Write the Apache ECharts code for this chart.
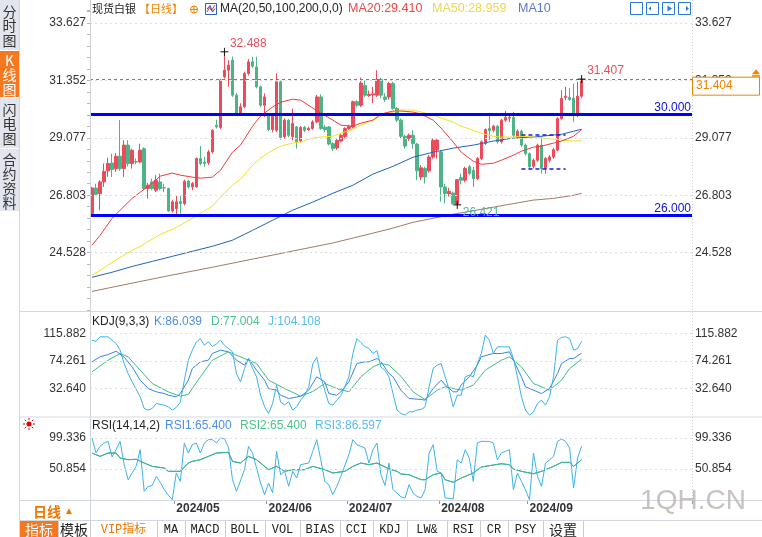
<!DOCTYPE html>
<html>
<head>
<meta charset="utf-8">
<title>现货白银 日线</title>
<script src="https://cdn.jsdelivr.net/npm/echarts@6.0.0/dist/echarts.min.js"></script>
<style>
html,body{margin:0;padding:0;background:#fff;overflow:hidden}
#chart{width:762px;height:537px}
</style>
</head>
<body>
<div id="chart"></div>
<script>
// ---------------- data ----------------
const START_DATE = [2024, 4, 2];   // first candle
const SLOT_COUNT = 150;            // category slots on the time axis (incl. empty right margin)

// [open, close, low, high]
const ohlc = [
[26.07,27.09,26.05,27.13],[27.09,26.84,26.78,27.26],[26.87,27.33,26.21,27.40],[27.33,27.75,27.13,28.06],
[27.77,28.06,27.53,28.29],[28.08,27.82,27.53,28.45],[27.85,28.35,27.73,28.48],[28.35,27.85,27.77,29.78],
[27.86,28.79,27.53,28.98],[28.79,28.06,27.95,28.98],[28.06,28.59,27.86,28.65],[28.14,28.12,28.03,28.26],
[28.12,28.59,28.08,28.85],[28.65,27.07,27.00,28.70],[27.07,27.20,26.67,27.29],[27.33,27.07,27.00,27.46],
[27.00,27.40,26.93,27.60],[27.33,27.07,27.00,27.66],[27.10,27.09,26.93,27.26],[27.07,26.18,26.15,27.10],
[26.18,26.54,26.12,26.62],[26.27,26.54,26.01,26.80],[26.56,26.47,26.07,26.80],[26.47,27.36,26.40,27.42],
[27.36,27.13,27.07,27.42],[27.13,27.27,27.00,27.33],[27.13,28.26,27.10,28.30],[28.26,28.06,27.99,28.75],
[28.12,28.06,27.93,28.32],[28.09,28.52,28.00,28.60],[28.52,29.38,28.45,29.42],[29.58,29.51,29.45,29.80],
[29.49,31.37,29.42,31.42],[31.50,31.76,31.43,32.488],[31.76,31.96,31.10,32.16],[32.16,30.77,30.70,32.30],
[30.77,30.04,29.98,30.85],[30.04,30.31,29.98,30.45],[30.31,31.63,30.25,31.70],[31.63,32.09,31.55,32.20],
[32.09,31.92,31.85,32.29],[31.89,31.10,31.04,32.29],[31.10,30.37,30.30,31.15],[30.37,30.70,29.90,30.84],
[29.98,29.41,29.35,30.05],[29.41,29.94,29.30,30.00],[29.38,31.30,29.30,31.63],[31.30,29.09,29.00,31.36],
[29.12,29.78,29.05,29.85],[29.78,29.18,29.10,29.82],[29.12,29.65,28.98,30.24],[29.51,28.92,28.65,29.55],
[28.95,29.49,28.90,29.55],[29.49,29.38,29.30,29.55],[29.40,29.45,29.35,29.52],[29.45,29.71,29.40,29.78],
[29.71,30.70,29.65,30.78],[30.70,29.45,29.40,30.80],[29.50,29.40,29.30,29.58],[29.51,28.83,28.78,29.55],
[28.85,28.65,28.55,28.90],[28.68,28.98,28.60,29.05],[28.95,29.18,28.90,29.25],[29.13,29.45,29.05,29.50],
[29.45,29.52,29.38,29.60],[29.51,30.51,29.45,30.55],[30.51,30.37,30.28,30.57],[30.37,31.25,30.30,31.47],
[31.15,30.77,30.70,31.35],[30.76,30.80,30.70,30.95],[30.78,30.82,30.45,31.10],[30.77,31.39,30.70,31.76],
[31.39,30.77,30.65,31.45],[30.70,30.60,30.50,30.85],[30.70,31.23,30.60,31.30],[31.23,30.24,30.20,31.30],
[30.24,29.78,29.70,30.30],[29.78,29.14,29.05,29.85],[29.14,28.75,28.65,29.20],[29.05,29.18,28.95,29.25],
[29.18,28.85,28.65,29.38],[28.83,27.77,27.40,28.88],[27.53,27.89,27.40,27.99],[27.86,27.53,27.27,27.93],
[27.77,28.32,27.70,28.40],[28.32,28.98,28.25,29.05],[28.60,28.99,28.26,29.02],[28.52,27.13,26.55,28.60],
[27.13,26.87,26.47,27.25],[26.87,26.95,26.75,27.10],[26.89,26.47,26.43,26.95],[26.45,27.42,26.421,27.45],
[27.50,27.40,27.23,27.66],[27.40,27.86,27.32,27.93],[27.93,27.66,27.60,28.00],[27.79,27.46,27.13,27.93],
[27.46,28.26,27.40,28.32],[28.26,28.92,28.20,28.98],[28.85,29.41,28.80,29.45],[29.45,29.36,28.98,29.94],
[29.38,29.54,29.30,29.60],[29.54,28.92,28.85,29.58],[28.92,29.78,28.85,29.82],[29.78,29.88,29.71,30.15],
[29.86,29.89,29.71,29.98],[29.88,29.18,29.12,30.11],[29.12,29.34,29.05,29.42],[29.34,28.79,28.72,29.40],
[28.79,28.45,28.38,28.85],[28.45,27.93,27.85,28.50],[27.95,28.19,27.86,28.26],[28.19,28.79,28.12,28.85],
[28.79,27.86,27.66,29.12],[27.86,28.26,27.66,28.32],[28.19,28.32,28.10,28.40],[28.32,28.61,28.25,28.68],
[28.59,29.84,28.55,29.90],[29.84,30.64,29.80,30.97],[30.68,30.73,30.57,31.10],[30.68,30.60,30.55,31.04],
[30.64,30.04,29.71,31.23],[30.04,30.73,29.90,31.30],[30.73,31.404,30.65,31.407]
];

// moving averages: [candle index, value]
const ma20 = [[0,24.82],[2,25.21],[5,25.89],[7,26.21],[10,26.68],[12,26.92],[15,27.28],[17,27.56],[20,27.68],[22,27.60],[25,27.52],[27,27.48],[30,27.52],[32,27.79],[35,28.51],[37,28.79],[40,29.54],[42,29.94],[45,30.30],[47,30.49],[50,30.61],[52,30.57],[55,30.26],[57,30.06],[60,29.78],[62,29.58],[65,29.54],[67,29.66],[70,29.78],[72,30.02],[75,30.14],[77,30.14],[80,30.10],[82,30.02],[85,29.78],[87,29.46],[90,28.91],[92,28.51],[95,28.15],[97,28.03],[100,28.07],[102,28.19],[105,28.39],[107,28.55],[110,28.71],[112,28.75],[115,28.87],[117,28.95],[120,29.14],[122,29.41]];
const ma50 = [[0,23.63],[2,23.83],[5,24.14],[7,24.34],[10,24.62],[12,24.78],[15,25.06],[17,25.25],[20,25.45],[22,25.61],[25,25.89],[27,26.09],[30,26.37],[32,26.72],[35,27.20],[37,27.44],[40,27.99],[42,28.27],[45,28.59],[47,28.75],[50,28.87],[52,28.91],[55,29.07],[57,29.11],[60,29.14],[62,29.26],[65,29.42],[67,29.58],[70,29.78],[72,29.94],[75,30.10],[77,30.18],[80,30.18],[82,30.10],[85,29.98],[87,29.86],[90,29.70],[92,29.54],[95,29.38],[97,29.26],[100,29.14],[102,29.11],[105,29.11],[107,29.14],[110,29.11],[112,29.07],[115,29.03],[117,28.99],[120,28.95],[122,28.96]];
const ma100 = [[0,23.55],[5,23.75],[10,23.98],[15,24.18],[20,24.38],[25,24.58],[30,24.78],[35,25.02],[40,25.41],[45,25.81],[50,26.21],[55,26.53],[60,26.88],[65,27.20],[70,27.64],[75,27.95],[80,28.31],[85,28.51],[90,28.67],[95,28.79],[100,28.95],[105,29.07],[110,29.11],[115,29.19],[117,29.22],[120,29.34],[122,29.42]];
const ma200 = [[0,22.99],[10,23.32],[20,23.64],[30,23.95],[40,24.27],[50,24.59],[60,24.91],[70,25.30],[75,25.50],[80,25.73],[90,26.05],[100,26.33],[110,26.61],[115,26.68],[120,26.80],[122,26.88]];

// KDJ(9,3,3)
const kLine = [[0,73],[2,80.6],[4,84],[6,89],[8,80],[10,65.4],[12,45.3],[14,32.6],[16,27.6],[18,25],[19,22.5],[21,20],[22,25],[24,45.3],[25,62.9],[27,73],[29,75.5],[30,85.6],[32,90.7],[34,88.1],[36,75.5],[38,68],[39,78],[41,60.4],[43,45.3],[44,32.6],[46,30.1],[47,22.5],[49,17.5],[52,21],[54,30.1],[56,50.3],[58,42.7],[59,25],[61,22.5],[62,27.6],[64,42.7],[66,70.5],[68,73],[69,73],[71,78],[72,73],[74,55.3],[75,50.3],[77,30],[79,17.5],[82,16],[83,15],[85,32.6],[87,45.3],[88,38],[90,27.6],[91,27.6],[92,38],[94,50.3],[96,68],[97,80.6],[100,85.6],[102,85.6],[104,88.1],[105,75.5],[107,50.3],[108,35.2],[111,27.6],[112,25],[114,32.6],[116,55.3],[117,70.5],[119,78],[120,78],[122,86.04]];
const dLine = [[0,57.9],[4,75.5],[7,85.6],[9,80.6],[12,60.4],[15,40.2],[19,27.6],[22,21],[24,24],[27,50.3],[30,75.5],[34,88.1],[38,78],[41,70.5],[44,45.3],[48,32.6],[52,21],[55,28],[58,40.2],[61,32.6],[64,27.6],[67,50.3],[70,65.4],[72,70.5],[74,68],[77,51],[80,27.6],[83,16],[86,30.1],[88,35.2],[92,30.1],[95,37.7],[98,60.4],[102,75.5],[104,80.6],[107,65.4],[110,40.2],[114,30.1],[117,45.3],[119,62.9],[122,77.0]];
const jLine = [[0,105.8],[1,104],[2,110.8],[4,110.8],[5,105.8],[6,100.7],[7,90.7],[8,70.5],[9,55.3],[10,42.7],[12,20],[13,2.4],[14,0],[15,2.4],[16,9.9],[18,7.4],[19,5],[20,0],[21,4],[22,12],[23,45],[24,75.5],[25,90.7],[26,103],[27,108],[28,98.2],[29,103.3],[30,96],[31,100],[32,105.8],[33,98],[34,93.2],[35,88.1],[36,55],[37,42.7],[38,62.9],[39,78],[40,62.9],[41,50.3],[42,22.5],[43,5],[44,-5.2],[45,9.9],[46,37.7],[47,12],[48,8],[49,12.5],[50,0],[51,5],[52,15],[53,22.5],[54,35.2],[55,70],[56,80],[57,50.3],[58,30.1],[59,9.9],[60,7.4],[61,15],[62,22],[63,35],[64,50.3],[65,85.6],[66,108.3],[67,102],[68,96],[69,93.2],[70,85.6],[71,90],[72,65],[73,60],[74,50],[75,25],[76,0],[77,-5.2],[78,-7.7],[79,-2.7],[80,-2.7],[81,0],[82,0.9],[83,4.9],[84,35.2],[85,62.9],[86,68],[87,70.5],[88,50.3],[89,30.1],[90,4.9],[91,22.5],[92,22.5],[93,50.3],[94,52.8],[95,50.3],[96,70],[97,85.6],[98,113.4],[99,105.8],[100,85.6],[101,95.7],[102,95.7],[103,95.7],[104,95.7],[105,78],[106,50.3],[107,20],[108,0],[109,-7.7],[110,-2.7],[111,9.9],[112,15],[113,7.4],[114,20],[115,50.3],[116,105.8],[117,110],[118,110.8],[119,108.3],[120,90.7],[121,93.2],[122,104.1]];

// RSI(14,14,2): RSI1 and RSI2 coincide
const rsi12Line = [[0,75.8],[2,70.6],[4,75.8],[6,75.8],[7,68],[9,65.4],[11,66],[13,60.2],[15,55],[18,52.4],[19,47.2],[22,47.2],[24,60.2],[25,62.8],[27,65.4],[29,70.6],[31,75.8],[34,76.9],[35,62.8],[37,60.2],[39,70.6],[41,65.4],[43,55],[44,49.8],[46,55],[48,47.2],[50,49.8],[53,49.8],[55,55],[58,49.8],[60,44.6],[63,47.2],[65,55],[67,60.2],[69,57.6],[71,60.2],[74,51],[76,47.2],[77,43],[79,41.9],[82,34.1],[83,34.1],[85,41.9],[87,44.6],[88,34.1],[90,30],[92,36.7],[93,39.3],[95,44.6],[97,54],[99,56],[102,59.1],[104,57.6],[105,50.8],[107,47.2],[110,43.5],[112,47.2],[115,55],[117,61.2],[119,61.2],[120,55],[122,65.4]];
const rsi3Line = [[0,99.3],[1,75.8],[2,86.3],[3,91.5],[4,94.1],[5,70],[6,81],[7,94.1],[8,58],[9,34.1],[10,44.6],[11,55],[12,81],[13,15.9],[14,23.7],[15,25],[16,39.3],[17,30],[18,18.5],[19,10],[20,2.8],[21,44.6],[22,31.5],[23,91.5],[24,75.8],[25,88.9],[26,91.5],[27,75.8],[28,91.5],[29,96.7],[30,96.7],[31,91.5],[32,99.3],[33,98],[34,85],[35,34.1],[36,15.9],[38,49.8],[39,86.3],[40,75.8],[41,52.4],[42,28.9],[43,10.7],[44,28.9],[45,13.3],[46,78.4],[47,41.9],[48,47.2],[49,23.7],[50,47.2],[51,36.7],[52,57.6],[54,60.2],[55,78.4],[56,96.7],[57,65.4],[58,31.5],[59,26.3],[60,10.7],[61,23.7],[62,39.3],[64,73.2],[65,96.7],[66,88.9],[67,86.3],[68,83.7],[69,60.2],[70,81],[71,91.5],[72,41.9],[73,25],[74,60],[75,18.5],[76,13.3],[77,7],[78,5.5],[79,26.3],[80,13.3],[81,8],[82,5.5],[83,18.5],[84,75.8],[85,88.9],[86,47.2],[87,44.6],[88,5.5],[89,5],[90,3.9],[91,65.4],[92,60.2],[93,81],[94,68],[95,31.5],[96,91.5],[97,94.1],[98,94],[99,94],[100,91.5],[101,65.4],[102,75.8],[103,78.4],[104,81],[105,18.5],[106,44.6],[107,31.5],[108,18.5],[109,2.8],[110,75.8],[111,39.3],[112,23.7],[113,60.2],[114,65],[115,70.6],[116,94.1],[117,97.7],[118,94.1],[119,83.7],[120,21.1],[121,68],[122,86.6]];

// axis tick labels and ranges
const mainTicks = [24.528, 26.803, 29.077, 31.352, 33.627];
const kdjTicks = [32.640, 74.261, 115.882];
const rsiTicks = [50.854, 99.336];
const mainRange = [22.2535, 34.146];
const kdjRange = [-8.981, 148.4];
const rsiRange = [2.372, 130.6];

// annotations
const supportLevels = [30, 26];
const highMark = [33, 32.488];
const lastHighMark = [122, 31.407];
const lowMark = [91, 26.421];
const lastClose = 31.404;
const rangeBox = {from: 107, to: 118, top: 29.21, bottom: 27.87};
const maLegend = {ma20: 29.410, ma50: 28.959};
const kdjLegend = {k: 86.039, d: 77.004, j: 104.108};
const rsiLegend = {rsi1: 65.400, rsi2: 65.400, rsi3: 86.597};
const toolbarItems = ['指标','模板','VIP指标','MA','MACD','BOLL','VOL','BIAS','CCI','KDJ','LW&','RSI','CR','PSY','设置'];
const sideTabs = ['分时图','K线图','闪电图','合约资料'];

// ---------------- build ----------------
const categories = [];
(function(){
  const d = new Date(Date.UTC(START_DATE[0], START_DATE[1]-1, START_DATE[2]));
  while (categories.length < SLOT_COUNT) {
    const wd = d.getUTCDay();
    if (wd !== 0 && wd !== 6) {
      categories.push(d.getUTCFullYear() + '/' + String(d.getUTCMonth()+1).padStart(2,'0') + '/' + String(d.getUTCDate()).padStart(2,'0'));
    }
    d.setUTCDate(d.getUTCDate()+1);
  }
})();
const isMonthStart = (i) => i > 0 && i < ohlc.length && categories[i].slice(5,7) !== categories[i-1].slice(5,7);

const NUM = 'Arial, "Liberation Sans", sans-serif';
const CJK = '"Noto Sans CJK SC", sans-serif';
const UP = '#eb4b5a', DOWN = '#4cb486';
const C_MA20 = '#f03c3c', C_MA50 = '#f4e21e', C_MA100 = '#1f66b8', C_MA200 = '#a47a64';
const C_K = '#3a84e6', C_D = '#3dbd86', C_J = '#3cb2ea';
const GRID_LS = {type: [2,3], color: '#dedede', width: 1};

const L = 90, R = 692;
const G = [
  {top: 10, bottom: 310},
  {top: 312, bottom: 416},
  {top: 418, bottom: 500}
];

function yAx(gi, pos, range, ticks, extra) {
  return Object.assign({
    type: 'value', gridIndex: gi, position: pos, min: range[0], max: range[1],
    axisLine: {show: false}, axisTick: {show: false}, splitLine: {show: false},
    axisLabel: {customValues: ticks, formatter: v => Number(v).toFixed(3), fontSize: 12, color: '#333',
      fontFamily: NUM, margin: pos === 'left' ? 4 : 3}
  }, extra || {});
}
function gridSeries(xi, yi, ticks) {
  return {type: 'line', xAxisIndex: xi, yAxisIndex: yi, data: [], z: 1, silent: true,
    markLine: {silent: true, animation: false, symbol: ['none','none'], label: {show: false},
      lineStyle: GRID_LS, data: ticks.map(v => ({yAxis: v}))}};
}
function lineSeries(name, xi, yi, data, color, z) {
  return {name, type: 'line', xAxisIndex: xi, yAxisIndex: yi, data, showSymbol: false, symbol: 'none',
    smooth: false, silent: true, z: z || 4, lineStyle: {width: 1, color}, itemStyle: {color}};
}
const markLabel = (txt, color, dy) => ({show: true, position: 'right', distance: 1, offset: [0, dy],
  formatter: txt, color, fontSize: 12, fontFamily: NUM});

const option = {
  animation: false,
  backgroundColor: '#ffffff',
  textStyle: {fontFamily: NUM},
  grid: G.map(g => ({left: L, width: R - L, top: g.top, height: g.bottom - g.top})),
  xAxis: [0,1,2].map(gi => ({
    type: 'category', gridIndex: gi, data: categories, boundaryGap: true, show: gi === 2,
    axisLine: {show: false},
    axisTick: {show: gi === 2, interval: isMonthStart, length: 4, lineStyle: {color: '#999'}},
    axisLabel: {show: gi === 2, interval: isMonthStart, formatter: v => v.slice(0,7), align: 'left',
      margin: 3, fontWeight: 'bold', fontSize: 12, color: '#333', fontFamily: NUM},
    splitLine: {show: false}
  })),
  yAxis: [
    yAx(0, 'left', mainRange, mainTicks, {interval: (mainTicks[1]-mainTicks[0])/5,
      axisTick: {show: true, length: 3, lineStyle: {color: '#b8b8b8'}}}),
    yAx(0, 'right', mainRange, mainTicks),
    yAx(1, 'left', kdjRange, kdjTicks),
    yAx(1, 'right', kdjRange, kdjTicks),
    yAx(2, 'left', rsiRange, rsiTicks),
    yAx(2, 'right', rsiRange, rsiTicks)
  ],
  series: [
    gridSeries(0, 0, mainTicks),
    {
      name: '现货白银', type: 'candlestick', xAxisIndex: 0, yAxisIndex: 0, data: ohlc, barWidth: 3, z: 3, silent: true,
      itemStyle: {color: UP, color0: DOWN, borderColor: UP, borderColor0: DOWN, borderWidth: 1},
      markLine: {
        silent: true, animation: false, symbol: ['none','none'],
        data: [
          ...supportLevels.map(v => ({yAxis: v, lineStyle: {color: '#0000ff', width: 3, type: 'solid'},
            label: {show: true, position: 'insideEndTop', distance: 1, formatter: v.toFixed(3), color: '#1010e0', fontSize: 12, fontFamily: NUM}})),
          {yAxis: lastHighMark[1], lineStyle: {color: '#2a8cf5', width: 1, type: [3,3]}, label: {show: false}},
          [{coord: [rangeBox.from, rangeBox.top], lineStyle: {color: '#1a1ae0', width: 1.5, type: [4,3]}, label: {show: false}},
           {coord: [rangeBox.to, rangeBox.top]}],
          [{coord: [rangeBox.from, rangeBox.bottom], lineStyle: {color: '#1a1ae0', width: 1.5, type: [4,3]}, label: {show: false}},
           {coord: [rangeBox.to, rangeBox.bottom]}]
        ]
      },
      markPoint: {
        silent: true, animation: false,
        symbol: 'path://M0,4L8,4M4,0L4,8', symbolSize: 8,
        itemStyle: {color: 'rgba(0,0,0,0)', borderColor: '#111', borderWidth: 1},
        data: [
          {coord: highMark, label: markLabel(highMark[1].toFixed(3), '#e8505e', -8)},
          {coord: lastHighMark, label: markLabel(lastHighMark[1].toFixed(3), '#e8505e', -8)},
          {coord: lowMark, label: markLabel(lowMark[1].toFixed(3), '#4db39b', 8)}
        ]
      }
    },
    lineSeries('MA200', 0, 0, ma200, C_MA200),
    lineSeries('MA100', 0, 0, ma100, C_MA100),
    lineSeries('MA50', 0, 0, ma50, C_MA50),
    lineSeries('MA20', 0, 0, ma20, C_MA20),
    gridSeries(1, 2, kdjTicks),
    lineSeries('D', 1, 2, dLine, C_D),
    lineSeries('K', 1, 2, kLine, C_K),
    lineSeries('J', 1, 2, jLine, C_J),
    gridSeries(2, 4, rsiTicks),
    lineSeries('RSI3', 2, 4, rsi3Line, C_J),
    lineSeries('RSI1', 2, 4, rsi12Line, C_K),
    lineSeries('RSI2', 2, 4, rsi12Line, C_D)
  ]
};

const chart = echarts.init(document.getElementById('chart'), null, {renderer: 'canvas', width: 762, height: 537});
chart.setOption(option);

// ---------------- chrome (text, frames, toolbar) ----------------
function txt(x, y, text, fill, font, align, z) {
  return {type: 'text', silent: true, z: z || 20, style: {x, y, text, fill, font, align: align || 'left', verticalAlign: 'middle'}};
}
function ln(x1, y1, x2, y2, stroke, dash, w) {
  return {type: 'line', silent: true, z: 15, shape: {x1, y1, x2, y2}, style: {stroke, lineWidth: w || 1, lineDash: dash || null}};
}
function rc(x, y, w, h, fill, stroke, z) {
  return {type: 'rect', silent: true, z: z || 10, shape: {x, y, width: w, height: h}, style: {fill, stroke: stroke || null, lineWidth: 1}};
}
const gfx = [];
// left side tabs
const tabBounds = [[0,50],[51,97],[98,148],[149,211]];
sideTabs.forEach((t, i) => {
  const [y0, y1] = tabBounds[i];
  const active = i === 1;
  gfx.push(rc(0, y0, 19, y1 - y0, active ? '#f5781f' : '#e2e5ed'));
  gfx.push({type: 'text', silent: true, z: 20, style: {x: 9.5, y: (y0 + y1) / 2 + 1, text: t.split('').join('\n'),
    fill: active ? '#ffffff' : '#333', font: '14px ' + CJK, align: 'center', verticalAlign: 'middle', lineHeight: 14.5}});
});
const sepColor = '#d3d8e0';
gfx.push(ln(19.5, 0, 19.5, 537, sepColor));
gfx.push(ln(20, 311.5, 762, 311.5, sepColor));
gfx.push(ln(20, 417, 762, 417, sepColor));
gfx.push(ln(20, 500.5, 762, 500.5, sepColor));
gfx.push(ln(20, 520.5, 762, 520.5, sepColor));
gfx.push(ln(L + 0.5, 0, L + 0.5, 520, '#cfd3da'));
gfx.push(ln(R + 0.5, 0, R + 0.5, 500, '#cfcfcf', [1,2]));

// title row
gfx.push(txt(92, 9, '现货白银', '#222', '11px ' + CJK));
gfx.push(txt(139, 9, '【日线】', '#f08300', '11px ' + CJK));
gfx.push({type: 'circle', silent: true, z: 20, shape: {cx: 194, cy: 9.5, r: 3.5}, style: {fill: 'none', stroke: '#f08300', lineWidth: 1}});
gfx.push(ln(190, 9.5, 198, 9.5, '#f08300'));
gfx.push(ln(194, 5.5, 194, 13.5, '#f08300'));
gfx.push(rc(205.5, 3.5, 11, 11, '#fff', '#2f5fb8', 20));
gfx.push({type: 'polyline', silent: true, z: 21, shape: {points: [[207,12],[209.5,7.5],[211.5,10.5],[215,5]]}, style: {stroke: '#e03030', fill: 'none', lineWidth: 1}});
gfx.push({type: 'polyline', silent: true, z: 21, shape: {points: [[207,9],[210,5.5],[212.5,12],[215,8.5]]}, style: {stroke: '#2050c0', fill: 'none', lineWidth: 1}});
gfx.push(txt(220, 9, 'MA(20,50,100,200,0,0)', '#222', '12px ' + NUM));
gfx.push(txt(348, 9, 'MA20:' + maLegend.ma20.toFixed(3), '#f04646', '12.5px ' + NUM));
gfx.push(txt(432, 9, 'MA50:' + maLegend.ma50.toFixed(3), '#eed650', '12.5px ' + NUM));
gfx.push(txt(518, 9, 'MA10', '#5a78c8', '12.5px ' + NUM));

// top-right tool icons
const ic = '#2a78d6';
[630.5, 646.5, 662.5, 678.5].forEach(x => gfx.push(rc(x, 2.5, 12, 12, '#fff', ic, 20)));
gfx.push(ln(636.5, 4, 636.5, 13, ic, [2,1])); gfx.push(ln(632, 8.5, 641, 8.5, ic, [2,1]));
gfx.push(ln(649.5, 5, 649.5, 12, ic)); gfx.push(ln(649.5, 12.5, 656, 12.5, ic)); gfx.push(ln(653.5, 5, 653.5, 11, ic));
gfx.push({type: 'polygon', silent: true, z: 21, shape: {points: [[651,6.5],[651,10.5],[648.5,8.5]]}, style: {fill: ic}});
gfx.push(ln(665.5, 5, 665.5, 12, ic)); gfx.push(ln(665.5, 12.5, 672, 12.5, ic));
gfx.push({type: 'polygon', silent: true, z: 21, shape: {points: [[667.5,5.5],[667.5,11.5],[672,8.5]]}, style: {fill: ic}});
gfx.push(ln(681, 5, 681, 12, ic)); gfx.push(ln(681, 5, 684, 5, ic)); gfx.push(ln(681, 12, 684, 12, ic));
gfx.push(ln(683, 8.5, 688, 8.5, ic, null, 2));
gfx.push({type: 'polygon', silent: true, z: 21, shape: {points: [[686,6],[686,11],[689,8.5]]}, style: {fill: ic}});

// KDJ legend
gfx.push(txt(92, 321.5, 'KDJ(9,3,3)', '#222', '12px ' + NUM));
gfx.push(txt(154, 321.5, 'K:' + kdjLegend.k.toFixed(3), '#4d8fe6', '12px ' + NUM));
gfx.push(txt(211, 321.5, 'D:' + kdjLegend.d.toFixed(3), '#4cc28e', '12px ' + NUM));
gfx.push(txt(268, 321.5, 'J:' + kdjLegend.j.toFixed(3), '#5bbcec', '12px ' + NUM));
// RSI legend
gfx.push(txt(92, 425.5, 'RSI(14,14,2)', '#222', '12px ' + NUM));
gfx.push(txt(165, 425.5, 'RSI1:' + rsiLegend.rsi1.toFixed(3), '#4d8fe6', '12px ' + NUM));
gfx.push(txt(240, 425.5, 'RSI2:' + rsiLegend.rsi2.toFixed(3), '#4cc28e', '12px ' + NUM));
gfx.push(txt(315, 425.5, 'RSI3:' + rsiLegend.rsi3.toFixed(3), '#5bbcec', '12px ' + NUM));
// small red sun icon
gfx.push({type: 'circle', silent: true, z: 20, shape: {cx: 29, cy: 424, r: 2.5}, style: {fill: '#e00000'}});
for (let a = 0; a < 8; a++) {
  const t = a * Math.PI / 4, c = Math.cos(t), s = Math.sin(t);
  gfx.push(ln(29 + 4 * c, 424 + 4 * s, 29 + 6 * c, 424 + 6 * s, '#e00000'));
}

// bottom-left period button
gfx.push(ln(90.5, 500.5, 90.5, 520.5, sepColor));
gfx.push(txt(33, 511.5, '日线', '#f07800', 'bold 14px ' + CJK));
gfx.push(txt(64, 511.5, '▲', '#f07800', '10px ' + NUM));

// toolbar
const tbEdges = [20, 58, 90, 157, 185, 225, 265, 300, 340, 373, 407, 447, 480, 508, 543, 583];
toolbarItems.forEach((t, i) => {
  const x0 = tbEdges[i], x1 = tbEdges[i+1];
  const cjkOnly = /^[\u4e00-\u9fff]+$/.test(t);
  let fill = '#222';
  if (i === 0) { gfx.push(rc(x0, 521, x1 - x0, 16, '#f5781f')); fill = '#fff'; }
  if (i === 2) fill = '#f07800';
  gfx.push(txt((x0 + x1) / 2, 529.5, t, fill, (cjkOnly ? '14px ' : '12px "Liberation Mono", ') + CJK, 'center'));
  gfx.push(ln(x1 + 0.5, 521, x1 + 0.5, 537, '#cccccc'));
});

// watermark
gfx.push({type: 'text', silent: true, z: 30, style: {x: 693, y: 501, text: '1QH.CN', fill: 'rgba(190,185,180,0.85)',
  font: '28px ' + NUM, align: 'center', verticalAlign: 'middle'}});

// current price tag on right axis
const py = chart.convertToPixel({yAxisIndex: 0}, lastClose);
gfx.push(rc(692.5, py - 2, 67, 18, '#ffffff', '#f08300', 50));
gfx.push(txt(696, py + 7, lastClose.toFixed(3), '#f08300', '12px ' + NUM, 'left', 51));
gfx.push({type: 'polygon', silent: true, z: 51, shape: {points: [[752, py - 5], [760, py - 5], [756, py - 10]]}, style: {fill: '#f08300'}});
gfx.push(rc(752, py - 4, 8, 1.5, '#f08300', null, 51));

chart.setOption({graphic: {elements: gfx}});
</script>
</body>
</html>
